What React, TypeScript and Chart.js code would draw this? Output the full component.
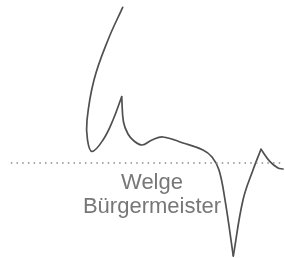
import React, { useEffect, useRef } from "react";
import { Chart, registerables } from "chart.js";

Chart.register(...registerables);

// Trajectory points (x position, value)
const pathX = [43.05, 37.89, 32.98, 30.53, 30.7, 32.28, 36.14, 39.65, 42.7, 43.33, 44.91, 47.02, 49.82, 53.33, 57.19, 64.21, 71.23, 74.39, 76.84, 78.95, 81.86, 85.26, 88.77, 91.58, 94.74, 97.54, 99.3];
const pathY = [95.52, 75.46, 50.92, 26.38, 14.11, 7.06, 14.11, 26.38, 40.67, 25.15, 17.79, 13.5, 11.04, 14.11, 15.95, 12.27, 7.98, 3.68, -4.29, -22.7, -57.06, -22.7, -4.29, 8.4, 0.8, -3.07, -3.68];
// indices where the trajectory has a sharp corner
const cornerIdx = [8, 20, 23];

// Baseline (dotted reference line)
const baseX = [3.8, 99.3];
const baseY = [0, 0];

const labelLines = ["Welge", "Bürgermeister"];

export default function App() {
  const ref = useRef<HTMLCanvasElement | null>(null);

  useEffect(() => {
    if (!ref.current) return;
    const pts = pathX.map((x, i) => ({ x, y: pathY[i] }));
    const bounds = [0, ...cornerIdx, pts.length - 1];
    const pieces = [] as any[];
    for (let k = 0; k < bounds.length - 1; k++) {
      pieces.push({
        data: pts.slice(bounds[k], bounds[k + 1] + 1),
        showLine: true,
        borderColor: "#505050",
        borderWidth: 1.7,
        pointRadius: 0,
        tension: 0.4,
        borderCapStyle: "round",
        borderJoinStyle: "round",
      });
    }
    const chart = new Chart(ref.current, {
      type: "scatter",
      data: {
        datasets: [
          {
            data: baseX.map((x, i) => ({ x, y: baseY[i] })),
            showLine: true,
            borderColor: "#8a8a8a",
            borderWidth: 1.5,
            borderDash: [1.5, 4.2],
            pointRadius: 0,
            tension: 0,
          },
          ...pieces,
        ],
      },
      options: {
        animation: false,
        responsive: false,
        layout: { padding: 0 },
        plugins: { legend: { display: false }, tooltip: { enabled: false } },
        scales: {
          x: { type: "linear", min: 0, max: 100, display: false },
          y: { type: "linear", min: -58.3, max: 100, display: false },
        },
      },
    });
    return () => chart.destroy();
  }, []);

  return (
    <div style={{ position: "fixed", left: 0, top: 0, width: 285, height: 258, background: "#fff" }}>
      <canvas ref={ref} width={285} height={258} style={{ display: "block" }} />
      <div
        style={{
          position: "absolute",
          left: 2,
          width: 300,
          top: 170,
          textAlign: "center",
          fontFamily: "'Liberation Sans', Arial, sans-serif",
          fontSize: 22,
          lineHeight: "24px",
          color: "#777",
        }}
      >
        {labelLines.map((l, i) => (
          <div key={i}>{l}</div>
        ))}
      </div>
    </div>
  );
}
